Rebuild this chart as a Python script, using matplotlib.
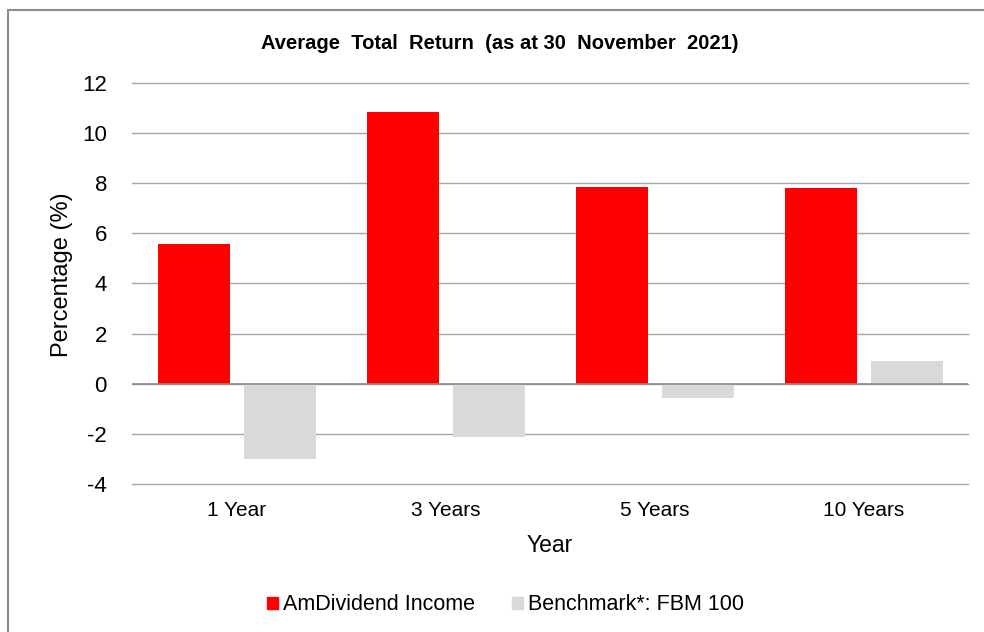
import matplotlib
matplotlib.use("Agg")
import matplotlib.pyplot as plt
import numpy as np
from matplotlib.lines import Line2D

plt.rcParams['font.family'] = ['Liberation Sans', 'DejaVu Sans']

# data
periods = ["1 Year", "3 Years", "5 Years", "10 Years"]
fund = [5.59, 10.85, 7.84, 7.80]
benchmark = [-2.99, -2.11, -0.56, 0.92]
series_names = ["AmDividend Income", "Benchmark*: FBM 100"]
yticks = [-4, -2, 0, 2, 4, 6, 8, 10, 12]

fig = plt.figure(figsize=(9.84, 6.32), dpi=100)
ax = fig.add_axes([0.1341, 0.2342, 0.8496, 0.6345])

x = np.arange(len(periods))
w = 0.345
ax.bar(x - 0.205, fund, width=w, color="#ff0000", label=series_names[0], zorder=3)
ax.bar(x + 0.21, benchmark, width=w, color="#d9d9d9", label=series_names[1], zorder=3)

ax.set_xlim(-0.5, len(periods) - 0.5)
ax.set_ylim(-4, 12)
ax.set_yticks(yticks)
ax.set_yticklabels([str(v) for v in yticks], fontsize=16)
ax.set_xticks(x)
ax.set_xticklabels(periods, fontsize=15)
ax.tick_params(length=0, pad=12)
ax.tick_params(axis="y", pad=18)
ax.grid(axis="y", color="#a6a6a6", linewidth=1, zorder=0)
for gl in ax.get_ygridlines():
    gl.set_clip_on(False)
ax.axhline(0, color="#8c8c8c", linewidth=1.2, zorder=4)
for s in ax.spines.values():
    s.set_visible(False)

ax.set_ylabel("Percentage (%)", fontsize=17)
ax.set_xlabel("Year", fontsize=16.5, labelpad=10)
ax.yaxis.set_label_coords(-0.071, 0.521)
fig.text(0.508, 0.931, "Average  Total  Return  (as at 30  November  2021)",
         ha="center", va="center", fontsize=14.5, fontweight="bold")

handles = [plt.Rectangle((0, 0), 1, 1, color="#ff0000"),
           plt.Rectangle((0, 0), 1, 1, color="#d9d9d9")]
fig.legend(handles, series_names, loc="center", bbox_to_anchor=(0.514, 0.043),
           ncol=2, frameon=False, fontsize=15.5, handlelength=0.5, handleheight=0.5,
           handletextpad=0.25, columnspacing=1.7)

# outer chart border (top and left visible in the reference)
fig.add_artist(Line2D([0.008, 1.0], [0.984, 0.984], color="#8c8c8c", linewidth=1.5,
                      transform=fig.transFigure))
fig.add_artist(Line2D([0.008, 0.008], [0.0, 0.984], color="#8c8c8c", linewidth=1.5,
                      transform=fig.transFigure))

fig.savefig("out.png", dpi=100)
